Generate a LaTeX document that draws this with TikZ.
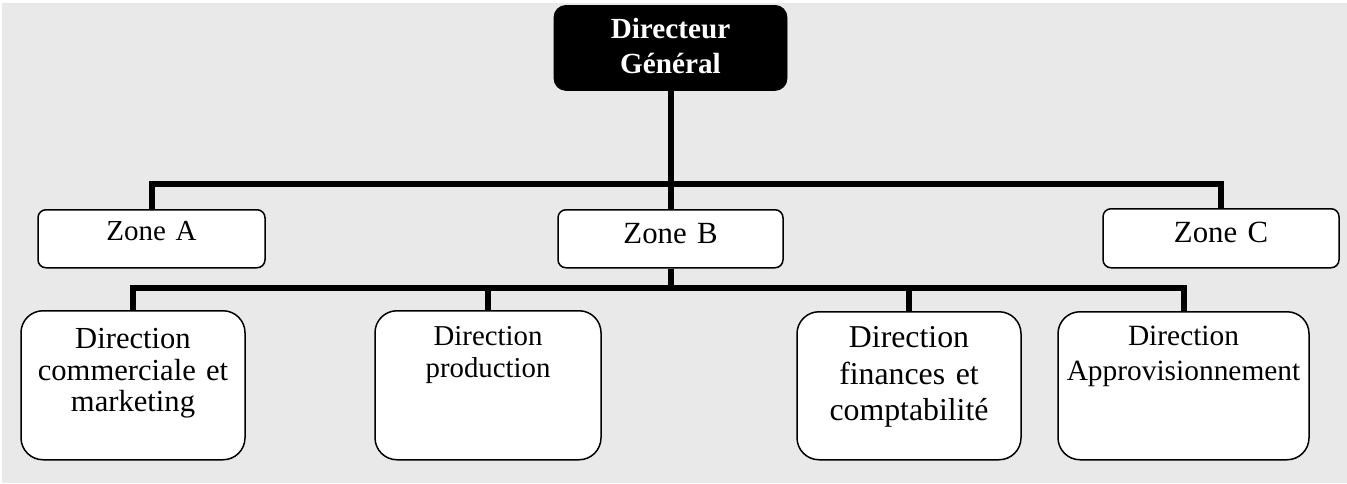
\documentclass[tikz,border=0pt]{standalone}
\usepackage{fontspec}
\setmainfont{Liberation Serif}
\definecolor{fond}{HTML}{E9E9E9}
\tikzset{
  chefbox/.style={draw=black,fill=black,text=white,rounded corners=6pt,anchor=north,
    inner sep=0pt,align=center,text height=16.5pt,text depth=26pt,
    font=\bfseries\fontsize{14.6}{17.5}\selectfont},
  zonebox/.style={draw=black,fill=white,line width=0.75pt,rounded corners=4pt,anchor=north,
    inner sep=0pt,align=center,text height=15.5pt,text depth=13.5pt,
    font=\fontsize{15.4}{18}\selectfont},
  dirbox/.style={draw=black,fill=white,line width=0.75pt,rounded corners=11pt,anchor=north,
    inner sep=0pt,align=center,text height=19pt,text depth=55.5pt},
  lien/.style={line width=3pt,line join=miter}
}
\begin{document}
\begin{tikzpicture}[x=0.5pt,y=-0.5pt]
\useasboundingbox (0,0) rectangle (1347,483);
\fill[fond] (2,3) rectangle (1347,483);
% direction generale
\node[chefbox,text width=116.5pt] (dg) at (670.5,5) {Directeur\\Général};
% zones
\node[zonebox,text width=113.5pt,font=\fontsize{14.5}{18}\selectfont] (za) at (151.5,209) {Zone A};
\node[zonebox,text width=112.5pt,text height=17pt,text depth=12pt] (zb) at (670.5,209) {Zone B};
\node[zonebox,text width=118pt,text height=17pt,text depth=12.5pt] (zc) at (1221,208) {Zone C};
% directions
\node[dirbox,text width=112pt,font=\fontsize{15.3}{15.7}\selectfont] (dcm) at (133,310) {Direction\\commerciale et\\marketing};
\node[dirbox,text width=113pt,text height=17.5pt,text depth=57pt,font=\fontsize{14.4}{16}\selectfont] (dp) at (488,310) {Direction\\production};
\node[dirbox,text width=112pt,text height=18pt,text depth=56pt,font=\fontsize{15.9}{18.2}\selectfont] (dfc) at (909,311) {Direction\\finances et\\comptabilité};
\node[dirbox,text width=125.5pt,text height=17pt,text depth=57pt,font=\fontsize{14.7}{17.5}\selectfont] (da) at (1183.5,311) {Direction\\Approvisionnement};
% liens
\coordinate (haut) at (670.5,184);
\coordinate (bas) at (670.5,288);
\draw[lien] (dg) -- (zb);
\draw[lien] (za.north) |- (haut) -| (zc.north);
\draw[lien] (zb) -- (bas);
\draw[lien] (dcm.north) |- (bas) -| (da.north);
\draw[lien] (dp.north) -- (dp.north |- bas);
\draw[lien] (dfc.north) -- (dfc.north |- bas);
\end{tikzpicture}
\end{document}
